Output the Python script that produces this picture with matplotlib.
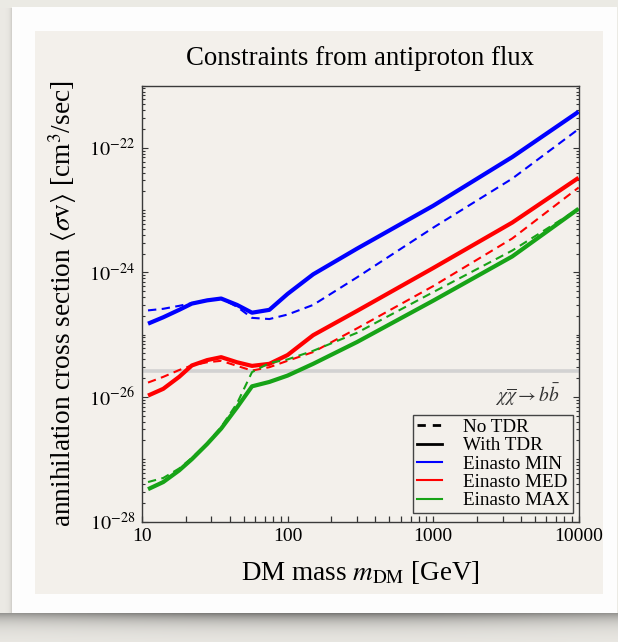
import matplotlib
matplotlib.use("Agg")
import matplotlib.pyplot as plt
import numpy as np
from matplotlib.lines import Line2D
from matplotlib.ticker import FixedLocator, FixedFormatter, LogLocator, NullFormatter

plt.rcParams['font.family'] = ['Liberation Serif', 'DejaVu Serif']
plt.rcParams['mathtext.fontset'] = 'stix'

# DM masses [GeV] and annihilation cross-section limits [cm^3/s]
mass = [11, 14, 18, 22, 28, 35, 45, 57, 75, 100, 150, 300, 1000, 3500, 10000]

min_tdr = [1.5e-25, 1.9e-25, 2.5e-25, 3.15e-25, 3.55e-25, 3.8e-25, 3.0e-25, 2.25e-25,
           2.5e-25, 4.5e-25, 9.3e-25, 2.4e-24, 1.17e-23, 7.1e-23, 3.8e-22]
min_notdr = [2.45e-25, 2.6e-25, 2.9e-25, 3.2e-25, 3.6e-25, 3.8e-25, 2.8e-25, 1.86e-25,
             1.78e-25, 2.1e-25, 3.0e-25, 8.3e-25, 5.2e-24, 3.2e-23, 2.0e-22]
med_tdr = [1.05e-26, 1.35e-26, 2.1e-26, 3.2e-26, 3.9e-26, 4.35e-26, 3.6e-26, 3.15e-26,
           3.4e-26, 4.7e-26, 9.8e-26, 2.4e-25, 1.17e-24, 6.3e-24, 3.3e-23]
med_notdr = [1.7e-26, 2.1e-26, 2.7e-26, 3.2e-26, 3.6e-26, 3.8e-26, 3.15e-26, 2.65e-26,
             3.0e-26, 3.8e-26, 5.25e-26, 1.26e-25, 6.0e-25, 3.5e-24, 2.3e-23]
max_tdr = [3.3e-28, 4.3e-28, 6.6e-28, 1.0e-27, 1.75e-27, 3.1e-27, 6.8e-27, 1.48e-26,
           1.74e-26, 2.2e-26, 3.4e-26, 7.6e-26, 3.5e-25, 1.8e-24, 1.05e-23]
max_notdr = [4.3e-28, 5.0e-28, 7.1e-28, 1.05e-27, 1.8e-27, 3.3e-27, 7.9e-27, 2.5e-26,
             3.5e-26, 4.0e-26, 5.5e-26, 1.07e-25, 4.8e-25, 2.24e-24, 1.05e-23]

relic_xsec = 2.6e-26

series = [
    ("Einasto MIN", "#0000ff", min_notdr, min_tdr),
    ("Einasto MED", "#ff0000", med_notdr, med_tdr),
    ("Einasto MAX", "#17a317", max_notdr, max_tdr),
]

W, H = 618, 642
fig = plt.figure(figsize=(W / 100, H / 100), dpi=100)

# paper-style backdrop: beige page, white mount with a soft shadow, inner panel
yy, xx = np.mgrid[0:H, 0:W].astype(float)
img = np.ones((H, W, 3)) * np.array([0.925, 0.918, 0.898])
shade = np.zeros((H, W))
below = yy >= 613
curl = 0.75 + 0.25 * np.sin(np.pi * np.clip((xx - 10) / (W - 10), 0, 1))
shade[below] = (0.48 * np.exp(-(yy[below] - 613) / 9.0) * curl[below])
left = (xx < 12) & (yy > 7) & (yy < 613)
shade[left] = 0.18 * np.exp(-(12 - xx[left]) / 2.0)
img = img * (1 - shade[..., None])
mount = (xx >= 12) & (xx < 617) & (yy >= 7) & (yy < 613)
img[mount] = [0.995, 0.995, 0.993]
panel = (xx >= 35) & (xx < 603) & (yy >= 31) & (yy < 594)
img[panel] = [0.953, 0.945, 0.925]

bg = fig.add_axes([0, 0, 1, 1], zorder=-10)
bg.imshow(img, aspect='auto', interpolation='bilinear')
bg.axis('off')

ax = fig.add_axes([142 / W, 1 - 521.5 / H, 436.6 / W, 436 / H])
ax.set_facecolor('none')

for label, color, notdr, tdr in series:
    ax.plot(mass, tdr, color=color, lw=3.0, solid_capstyle='butt', zorder=3)
    ax.plot(mass, notdr, color=color, lw=1.5, dashes=(4, 2.6), zorder=4)

ax.axhline(relic_xsec, color='#d2d2d2', lw=2.6, zorder=2)

ax.set_xscale('log')
ax.set_yscale('log')
ax.set_xlim(10, 10000)
ax.set_ylim(1e-28, 1e-21)

ax.set_xticks([10, 100, 1000, 10000])
ax.set_xticklabels(['10', '100', '1000', '10000'])
ax.xaxis.set_minor_locator(LogLocator(base=10, subs=np.arange(2, 10), numticks=20))
ax.xaxis.set_minor_formatter(NullFormatter())

ax.yaxis.set_major_locator(FixedLocator([1e-28, 1e-26, 1e-24, 1e-22]))
ax.yaxis.set_major_formatter(FixedFormatter(
    [r'$10^{-28}$', r'$10^{-26}$', r'$10^{-24}$', r'$10^{-22}$']))
ax.yaxis.set_minor_locator(LogLocator(base=10, subs=np.arange(1, 10), numticks=40))
ax.yaxis.set_minor_formatter(NullFormatter())

ax.tick_params(axis='x', which='both', direction='in', top=False, bottom=True,
               labelsize=14, pad=5, color='#333333', width=0.9)
ax.tick_params(axis='x', which='major', length=4.5)
ax.tick_params(axis='x', which='minor', length=4.3)
ax.tick_params(axis='y', which='both', direction='in', left=True, right=True,
               labelsize=14.5, pad=5, color='#333333', width=0.8)
ax.tick_params(axis='y', which='major', length=4.5)
ax.tick_params(axis='y', which='minor', length=2.2)
for s in ax.spines.values():
    s.set_color('#3a3a3a')
    s.set_linewidth(1.0)

ax.text(0.5, 1.063, 'Constraints from antiproton flux', transform=ax.transAxes,
        ha='center', va='center', fontsize=19.3)
ax.set_xlabel(r'DM mass $m_{\mathrm{DM}}$ [GeV]', fontsize=19.5)
ax.xaxis.set_label_coords(0.5, -0.116)
ax.xaxis.label.set_va('center')
ax.set_ylabel(r'annihilation cross section $\langle\sigma\mathrm{v}\rangle$ [cm$^3$/sec]',
              fontsize=19.7)
ax.yaxis.set_label_coords(-0.183, 0.5)
ax.yaxis.label.set_va('center')

ax.text(0.957, 0.29, r'$\chi\overline{\chi}\rightarrow b\bar{b}$', transform=ax.transAxes,
        ha='right', va='center', fontsize=14, color='#333333')

handles = [
    Line2D([], [], color='black', lw=2.0, dashes=(3, 2.5)),
    Line2D([], [], color='black', lw=2.0),
] + [Line2D([], [], color=c, lw=1.5) for _, c, _, _ in series]
labels = ['No TDR', 'With TDR'] + [s[0] for s in series]
leg = ax.legend(handles, labels, loc='lower right', bbox_to_anchor=(0.988, 0.019),
                borderaxespad=0, fontsize=13.8, labelspacing=0.05, handlelength=1.3,
                handletextpad=1.1, borderpad=0.2, fancybox=False, framealpha=1)
leg.get_frame().set_facecolor('none')
leg.get_frame().set_edgecolor('#444444')
leg.get_frame().set_linewidth(1.0)

fig.savefig('out.png', dpi=100)
